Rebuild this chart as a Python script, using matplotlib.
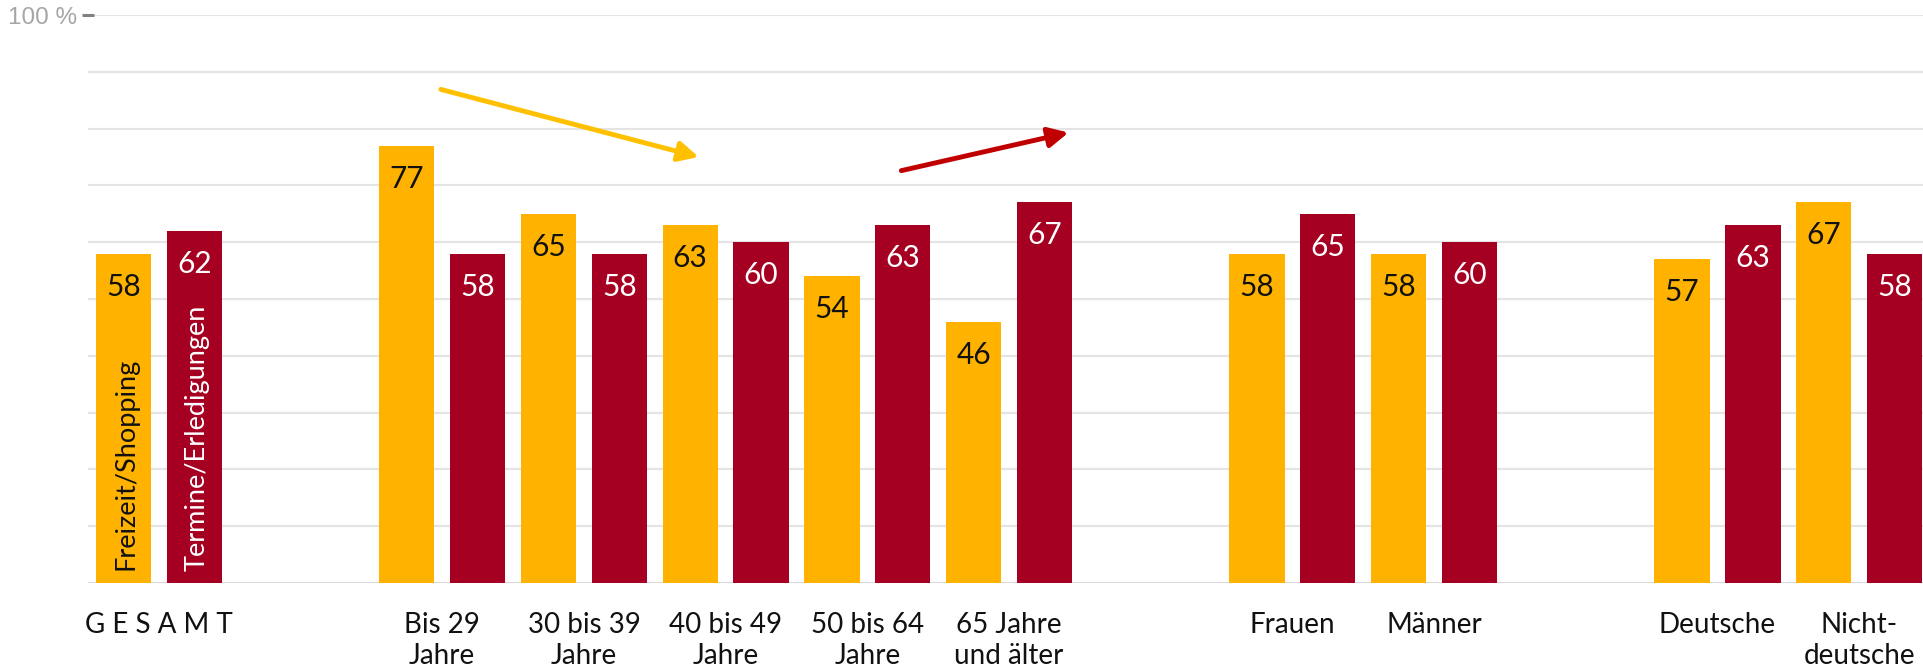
import matplotlib
matplotlib.use("Agg")
import matplotlib.pyplot as plt

# Anteile in Prozent je Gruppe
categories = ["G E S A M T", "Bis 29\nJahre", "30 bis 39\nJahre", "40 bis 49\nJahre",
              "50 bis 64\nJahre", "65 Jahre\nund älter", "Frauen", "Männer",
              "Deutsche", "Nicht-\ndeutsche"]
freizeit = [58, 77, 65, 63, 54, 46, 58, 58, 57, 67]
termine = [62, 58, 58, 60, 63, 67, 65, 60, 63, 58]
series_names = ["Freizeit/Shopping", "Termine/Erledigungen"]

# Lücken zwischen den Blöcken (Gesamt | Alter | Geschlecht | Herkunft)
pos = [0, 2, 3, 4, 5, 6, 8, 9, 11, 12]

YELLOW = "#FFB300"
RED = "#A50021"

plt.rcParams["font.family"] = ["Lato", "DejaVu Sans"]

W, H = 1923, 670
fig = plt.figure(figsize=(W / 100, H / 100), dpi=100)
ax = fig.add_axes([88 / W, 87 / H, 1 - 88 / W, 568 / H])

off, bw = 0.25, 0.39
xs_y = [p - off for p in pos]
xs_r = [p + off for p in pos]
ax.bar(xs_y, freizeit, width=bw, color=YELLOW, zorder=2)
ax.bar(xs_r, termine, width=bw, color=RED, zorder=2)

for x, v in zip(xs_y, freizeit):
    ax.annotate(str(v), (x, v), xytext=(0, -33), textcoords="offset pixels",
                ha="center", va="center", fontsize=21.5, color="#111111", zorder=3)
for x, v in zip(xs_r, termine):
    ax.annotate(str(v), (x, v), xytext=(0, -33), textcoords="offset pixels",
                ha="center", va="center", fontsize=21.5, color="white", zorder=3)

# Serienbeschriftung senkrecht in den Gesamt-Balken
ax.annotate(series_names[0], (xs_y[0], 0), xytext=(3, 13), textcoords="offset pixels",
            rotation=90, ha="center", va="bottom", fontsize=19.5, color="#111111", zorder=3)
ax.annotate(series_names[1], (xs_r[0], 0), xytext=(3, 12), textcoords="offset pixels",
            rotation=90, ha="center", va="bottom", fontsize=19.5, color="white", zorder=3)

# Trendpfeile
ax.annotate("", xy=(3.81, 75.0), xytext=(1.99, 86.9),
            arrowprops=dict(arrowstyle="-|>", color="#FFC000", lw=3.5, mutation_scale=30,
                            shrinkA=0, shrinkB=0), zorder=4)
ax.annotate("", xy=(6.42, 79.3), xytext=(5.24, 72.6),
            arrowprops=dict(arrowstyle="-|>", color="#C00000", lw=3.5, mutation_scale=30,
                            shrinkA=0, shrinkB=0), zorder=4)

ax.set_xlim(-0.5, 12.45)
ax.set_ylim(0, 100)

ax.set_xticks(pos)
ax.set_xticklabels(categories, fontsize=20, color="#111111", linespacing=1.22)
ax.tick_params(axis="x", length=0, pad=21)

ax.set_yticks([100])
ax.set_yticklabels(["100 %"], fontsize=17.5, color="#a6a6a6", family="Liberation Sans")
ax.set_yticks(range(0, 100, 10), minor=True)
ax.tick_params(axis="y", which="major", direction="inout", length=8, width=2.2,
               color="#808080", pad=4)
ax.tick_params(axis="y", which="minor", length=0)
ax.grid(axis="y", which="both", color="#e4e4e4", lw=1.6, zorder=0)
ax.axhline(0, color="#d9d9d9", lw=1.8, zorder=1)
ax.set_axisbelow(True)

for s in ax.spines.values():
    s.set_visible(False)

fig.savefig("out.png", dpi=100, facecolor="white")
